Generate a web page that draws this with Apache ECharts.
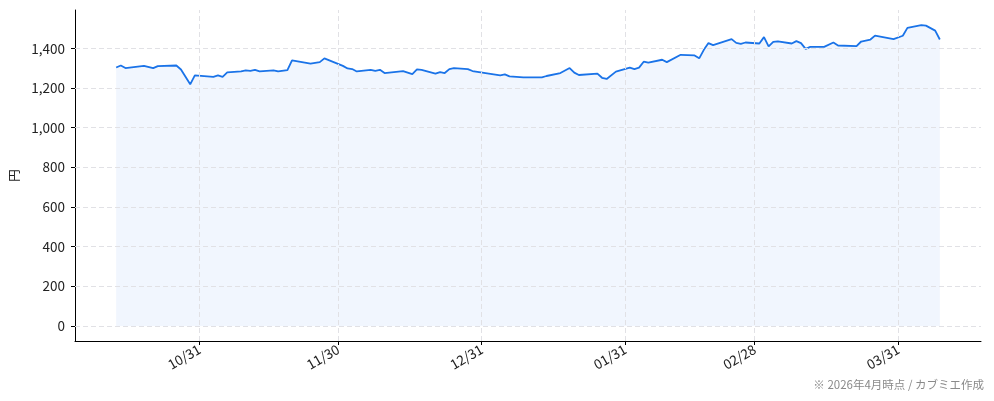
<!DOCTYPE html>
<html><head><meta charset="utf-8">
<script src="https://cdn.jsdelivr.net/npm/echarts@6/dist/echarts.min.js"></script>
<style>html,body{margin:0;padding:0;background:#fff}#c{width:994px;height:401px}</style>
</head><body><div id="c"></div>
<script>
const dates = ['2025-10-13','2025-10-14','2025-10-15','2025-10-19','2025-10-21','2025-10-22','2025-10-26','2025-10-27','2025-10-29','2025-10-30',
'2025-11-03','2025-11-04','2025-11-05','2025-11-06','2025-11-09','2025-11-10','2025-11-11','2025-11-12','2025-11-13','2025-11-16','2025-11-17','2025-11-19','2025-11-20','2025-11-24','2025-11-26','2025-11-27',
'2025-12-01','2025-12-02','2025-12-03','2025-12-04','2025-12-07','2025-12-08','2025-12-09','2025-12-10','2025-12-14','2025-12-16','2025-12-17','2025-12-18','2025-12-21','2025-12-22','2025-12-23','2025-12-24','2025-12-25','2025-12-28','2025-12-29',
'2026-01-04','2026-01-05','2026-01-06','2026-01-09','2026-01-13','2026-01-14','2026-01-17','2026-01-19','2026-01-20','2026-01-21','2026-01-25','2026-01-26','2026-01-27','2026-01-29',
'2026-02-01','2026-02-02','2026-02-03','2026-02-04','2026-02-05','2026-02-08','2026-02-09','2026-02-12','2026-02-15','2026-02-16','2026-02-17','2026-02-18','2026-02-19','2026-02-23','2026-02-24','2026-02-25','2026-02-26',
'2026-03-01','2026-03-02','2026-03-03','2026-03-04','2026-03-05','2026-03-08','2026-03-09','2026-03-10','2026-03-11','2026-03-12','2026-03-15','2026-03-17','2026-03-18','2026-03-22','2026-03-23','2026-03-25','2026-03-26','2026-03-30',
'2026-04-01','2026-04-02','2026-04-05','2026-04-06','2026-04-08','2026-04-09'];
const prices = [1304,1314,1301,1312,1301,1311,1314,1294,1219,1264,
1257,1264,1257,1279,1284,1289,1287,1292,1284,1289,1284,1291,1340,1323,1331,1350,
1312,1299,1296,1284,1292,1287,1292,1276,1286,1271,1294,1292,1273,1281,1276,1296,1301,1296,1286,
1264,1269,1259,1254,1254,1261,1276,1301,1278,1266,1273,1252,1246,1283,
1303,1296,1303,1333,1328,1343,1331,1368,1365,1350,1393,1427,1417,1447,1428,1423,1430,
1425,1457,1410,1433,1436,1425,1437,1427,1398,1408,1408,1430,1415,1412,1435,1445,1465,1447,
1464,1504,1518,1515,1490,1445];
const xTickDates = ['2025-10-31','2025-11-30','2025-12-31','2026-01-31','2026-02-28','2026-03-31'];
const yTicks = [0,200,400,600,800,1000,1200,1400];
const yName = '円';
const note = '※ 2026年4月時点 / カブミエ作成';

function ts(s, extraDays){ const p=s.split('-').map(Number); return new Date(p[0],p[1]-1,p[2]).getTime() + (extraDays||0)*86400000; }
const xTickTs = xTickDates.map(d=>ts(d));
const seriesData = dates.map((d,i)=>[ts(d), prices[i]]);
const FONT = '"Noto Sans CJK JP", "Noto Sans", sans-serif';
const gridStyle = {color:'#e1e1e5', width:1, type:[5,3]};

const chart = echarts.init(document.getElementById('c'), null, {renderer:'canvas'});
chart.setOption({
  animation:false,
  textStyle:{fontFamily:FONT},
  grid:{left:75, right:13, top:10, bottom:60, containLabel:false, outerBoundsMode:'none'},
  graphic:[{type:'text', right:10, top:379, style:{text:note, fill:'#8a8a8a', font:'11.5px '+FONT}}],
  xAxis:{
    type:'value', scale:true,
    min: ts('2025-10-04',0.1), max: ts('2026-04-17',0.9),
    axisLine:{show:true, onZero:false, lineStyle:{color:'#000', width:1}},
    axisTick:{show:true, customValues:xTickTs, length:4, inside:false, lineStyle:{color:'#000'}},
    axisLabel:{customValues:xTickTs, rotate:30, color:'#222', fontSize:13.5, margin:7, fontFamily:FONT,
      formatter:function(v){const d=new Date(v);return String(d.getMonth()+1).padStart(2,'0')+'/'+String(d.getDate()).padStart(2,'0');}},
    splitLine:{show:false}
  },
  yAxis:{
    type:'value', min:-76, max:1594,
    name:yName, nameLocation:'middle', nameRotate:90, nameGap:52,
    nameTextStyle:{color:'#222', fontSize:12.5, fontFamily:FONT},
    axisLine:{show:true, onZero:false, lineStyle:{color:'#000', width:1}},
    axisTick:{show:true, customValues:yTicks, length:4, lineStyle:{color:'#000'}},
    axisLabel:{customValues:yTicks, color:'#222', fontSize:13.5, margin:10, fontFamily:FONT,
      formatter:function(v){return v.toLocaleString('en-US');}},
    splitLine:{show:false}
  },
  series:[{
    type:'line', data:seriesData, showSymbol:false, symbol:'none',
    lineStyle:{color:'#1a73e8', width:1.8},
    areaStyle:{color:'rgba(26,115,232,0.09)'},
    z:3,
    markLine:{silent:true, symbol:'none', label:{show:false}, lineStyle:gridStyle, animation:false,
      data: yTicks.map(v=>({yAxis:v})).concat(xTickTs.map(v=>({xAxis:v})))}
  }]
});
</script></body></html>
